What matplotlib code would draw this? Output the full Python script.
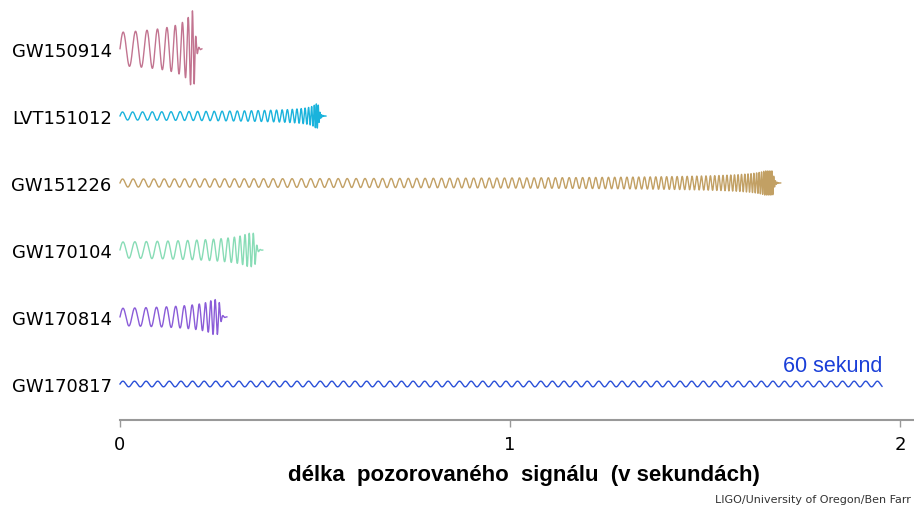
import numpy as np
import matplotlib.pyplot as plt

# signály shora dolů
names = ['GW150914', 'LVT151012', 'GW151226', 'GW170104', 'GW170814', 'GW170817']
merger_time = [0.19, 0.508, 1.674, 0.346, 0.254, 1.954]   # s
start_freq = [30.0, 38.0, 37.0, 32.0, 32.0, 33.6]         # Hz
start_amp = [0.25, 0.06, 0.06, 0.12, 0.13, 0.042]
peak_amp = [0.57, 0.18, 0.18, 0.25, 0.26, 0.042]
is_chirp = [True, True, True, True, True, False]
colors = ['#c27490', '#1ab3dc', '#c2a064', '#88dcb6', '#8a5cd8', '#2a4fd8']

ticks = [0, 1, 2]
dt = 1e-4


def waveform(tc, f0, a0, a1, chirp):
    t = np.arange(0, tc, dt)
    if not chirp:
        return t, a0 * np.sin(2 * np.pi * f0 * t)
    tau = tc - t
    tau_min = tc * (a0 / a1) ** 4
    te = np.maximum(tau, tau_min)
    amp = a0 * (te / tc) ** -0.25
    f = f0 * (te / tc) ** -0.375
    phase = 2 * np.pi * np.cumsum(f) * dt
    # ringdown
    t2 = np.arange(tc, tc + 0.02, dt)
    amp2 = a1 * np.exp(-(t2 - tc) / 0.004)
    phase2 = phase[-1] + 2 * np.pi * f[-1] * 1.2 * (t2 - tc)
    return np.concatenate([t, t2]), np.concatenate([amp * np.sin(phase), amp2 * np.sin(phase2)])


fig = plt.figure(figsize=(9.14, 5.06), dpi=100)
ax = fig.add_axes([120 / 914, (506 - 421) / 506, 794 / 914, 421 / 506])

n = len(names)
ypos = [n - 1 - i for i in range(n)]
for i in range(n):
    t, w = waveform(merger_time[i], start_freq[i], start_amp[i], peak_amp[i], is_chirp[i])
    ax.plot(t, ypos[i] + w, color=colors[i], lw=1.0, clip_on=False)

ax.text(merger_time[-1], ypos[-1] + 0.19, '60 sekund', color='#1a3fd8', fontsize=15.5,
        family='Liberation Sans', ha='right', va='baseline')

ax.set_xlim(0, 794 / 390)
ax.set_ylim(-36 / 67, 5 + 50 / 67)
ax.set_yticks(ypos)
ax.set_yticklabels(names, fontsize=13)
ax.tick_params(axis='y', length=0, pad=6)
ax.set_xticks(ticks)
ax.set_xticklabels([str(v) for v in ticks], fontsize=13)
ax.tick_params(axis='x', length=5, width=1, color='#999999', pad=6)
for s in ['top', 'right', 'left']:
    ax.spines[s].set_visible(False)
ax.spines['bottom'].set_color('#999999')
ax.spines['bottom'].set_linewidth(1.5)

fig.text(524 / 914, 1 - 481 / 506, 'délka  pozorovaného  signálu  (v sekundách)',
         fontsize=16, fontweight='bold', family='Liberation Sans', ha='center', va='baseline')
fig.text(911 / 914, 1 - 503 / 506, 'LIGO/University of Oregon/Ben Farr', fontsize=8.0,
         color='#333333', ha='right', va='baseline')

fig.savefig('out.png', dpi=100)
